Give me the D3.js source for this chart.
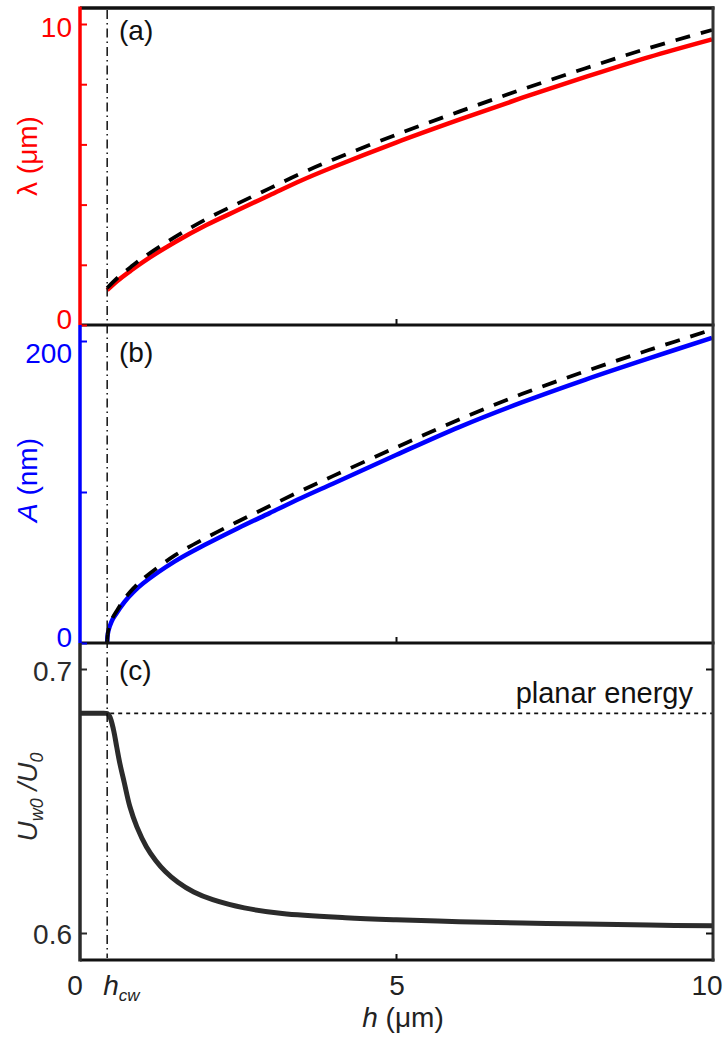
<!DOCTYPE html>
<html>
<head>
<meta charset="utf-8">
<script src="https://cdn.jsdelivr.net/npm/d3@7"></script>
<style>
  body { margin: 0; background: #fff; }
  svg text { font-family: "Liberation Sans", Arial, sans-serif; }
</style>
</head>
<body>
<svg id="fig" width="728" height="1039"></svg>
<script>
// critical thickness where wrinkling starts
var hcw = 0.43;
var planarU = 0.6832;

// (a) wavelength, simulation (solid) and theory (dashed)
var hA = [0.43, 0.6, 0.8, 1, 1.5, 2, 2.5, 3, 3.5, 4, 5, 6, 7, 8, 9, 10];
var lambdaSim = [1.16, 1.48, 1.8, 2.1, 2.75, 3.32, 3.82, 4.31, 4.8, 5.24, 6.06, 6.82, 7.55, 8.24, 8.9, 9.49];
var lambdaTheory = [1.23, 1.58, 1.92, 2.24, 2.92, 3.52, 4.04, 4.54, 5.04, 5.49, 6.32, 7.09, 7.83, 8.53, 9.2, 9.8];

// (b) amplitude
var hB = [0.43, 0.44, 0.47, 0.52, 0.6, 0.7, 0.84, 1, 1.5, 2, 2.5, 3, 3.5, 4, 5, 6, 7, 8, 9, 10];
var ampSim = [0, 6, 11, 16, 21, 27, 33.5, 39.5, 54, 65.5, 76, 86, 96, 105.5, 124.5, 143, 159.5, 174.5, 188.5, 202];
var ampTheory = [0, 6.5, 12, 17, 22.5, 29, 36, 42.5, 58, 69.8, 80.5, 90.7, 100.8, 110.5, 129.5, 148, 165, 180, 194, 207.5];

// (c) normalised energy
var hU = [0, 0.15, 0.3, 0.43, 0.47, 0.53, 0.58, 0.63, 0.7, 0.79, 0.9, 1.05, 1.2, 1.35, 1.55, 1.8, 2.1, 2.6, 3.2, 4.2, 5, 6, 7, 8, 9, 10];
var energy = [0.6832, 0.6832, 0.6832, 0.6831, 0.682, 0.677, 0.6706, 0.6643, 0.657, 0.6478, 0.6402, 0.6327, 0.6274, 0.6233, 0.6192, 0.6155, 0.6126, 0.6095, 0.6074, 0.6058, 0.6050, 0.6043, 0.6038, 0.6034, 0.6030, 0.6027];

// tick values / labels
var xTicks = [0, 5, 10];
var xTickLabels = ["0", "5", "10"];
var aTicks = [0, 2, 4, 6, 8, 10];
var bTicks = [0, 100, 200];
var cTicks = [0.6, 0.7];

var svg = d3.select('#fig');
var left = 80, right = 713;
var x = d3.scaleLinear().domain([0, 10]).range([left, 712]);

var yA = d3.scaleLinear().domain([0, 10]).range([325, 24]);
var yB = d3.scaleLinear().domain([0, 200]).range([643, 341]);
var yC = d3.scaleLinear().domain([0.6, 0.7]).range([933, 669]);

var font = 28;

function zip(xs, ys) {
  return xs.map(function (d, i) { return [d, ys[i]]; });
}

function curve(y, pts, color, width, dash) {
  var line = d3.line()
    .x(function (d) { return x(d[0]); })
    .y(function (d) { return y(d[1]); })
    .curve(d3.curveCatmullRom.alpha(0.5));
  var p = svg.append('path')
    .attr('d', line(pts))
    .attr('fill', 'none')
    .attr('stroke', color)
    .attr('stroke-width', width)
    .attr('stroke-linejoin', 'round');
  if (dash) p.attr('stroke-dasharray', dash);
  return p;
}

// left axis with inward ticks, labels only at the ends
function leftAxis(y, ticks, color, top, bottom, nudge) {
  var last = ticks[ticks.length - 1];
  var g = svg.append('g')
    .attr('transform', 'translate(' + left + ',0)')
    .call(d3.axisLeft(y).tickValues(ticks).tickSizeInner(-7).tickSizeOuter(0).tickPadding(8)
      .tickFormat(function (d) { return (d === ticks[0] || d === last) ? String(d) : ''; }));
  g.select('.domain').remove();
  g.selectAll('.tick line').attr('stroke', color).attr('stroke-width', 2);
  g.selectAll('.tick text')
    .attr('fill', color)
    .attr('font-size', font)
    .attr('transform', function (d) { return 'translate(0,' + (d === last ? nudge[1] : nudge[0]) + ')'; });
  svg.append('line')
    .attr('x1', left).attr('x2', left).attr('y1', top).attr('y2', bottom)
    .attr('stroke', color).attr('stroke-width', 3.5);
}

function bottomTick(yPos) {
  var g = svg.append('g')
    .attr('transform', 'translate(0,' + yPos + ')')
    .call(d3.axisBottom(x).tickValues([5]).tickSizeInner(-6).tickSizeOuter(0).tickFormat(''));
  g.select('.domain').remove();
  g.selectAll('.tick line').attr('stroke', '#111').attr('stroke-width', 2);
}

// ---- curves ----
curve(yA, zip(hA, lambdaSim), '#ff0000', 4.5);
curve(yA, zip(hA, lambdaTheory), '#000', 3.8, '15,11');

curve(yB, zip(hB, ampSim), '#0000ff', 4.5);
curve(yB, zip(hB, ampTheory), '#000', 3.8, '15,11');

// planar energy reference
svg.append('line')
  .attr('x1', x(hcw) + 3).attr('x2', right)
  .attr('y1', yC(planarU)).attr('y2', yC(planarU))
  .attr('stroke', '#111').attr('stroke-width', 1.6)
  .attr('stroke-dasharray', '4,4');
svg.append('text')
  .attr('x', 693).attr('y', 703)
  .attr('text-anchor', 'end')
  .attr('font-size', 29)
  .attr('fill', '#111')
  .text('planar energy');

curve(yC, zip(hU, energy), '#2b2b2b', 5);

// critical thickness marker
svg.append('line')
  .attr('x1', x(hcw)).attr('x2', x(hcw))
  .attr('y1', 10).attr('y2', 958)
  .attr('stroke', '#111').attr('stroke-width', 1.5)
  .attr('stroke-dasharray', '9,4,1.5,4');

// ---- frames ----
[8, 325, 643, 960].forEach(function (yy, i) {
  svg.append('line')
    .attr('x1', left).attr('x2', right + 1.5)
    .attr('y1', yy).attr('y2', yy)
    .attr('stroke', '#111').attr('stroke-width', i === 0 ? 3.5 : 2.8);
});
svg.append('line')
  .attr('x1', right).attr('x2', right).attr('y1', 6.5).attr('y2', 961.5)
  .attr('stroke', '#333').attr('stroke-width', 3);

bottomTick(325);
bottomTick(643);
bottomTick(960);

leftAxis(yA, aTicks, '#ff0000', 6.5, 325, [-5, 4]);
leftAxis(yB, bTicks, '#0000ff', 325, 643, [-5, 13]);
leftAxis(yC, cTicks, '#2b2b2b', 643, 961.5, [2, 3]);

// right ticks in (c)
var rc = svg.append('g')
  .attr('transform', 'translate(' + right + ',0)')
  .call(d3.axisRight(yC).tickValues(cTicks).tickSizeInner(-7).tickSizeOuter(0).tickFormat(''));
rc.select('.domain').remove();
rc.selectAll('.tick line').attr('stroke', '#111').attr('stroke-width', 2);

// x tick labels
svg.append('g').selectAll('text')
  .data(xTicks)
  .enter()
  .append('text')
  .attr('x', function (d) { return x(d) - (d === 5 ? -1 : 5); })
  .attr('y', 995)
  .attr('text-anchor', 'middle')
  .attr('font-size', font)
  .attr('fill', '#222')
  .text(function (d, i) { return xTickLabels[i]; });

var hl = svg.append('text')
  .attr('x', x(hcw) - 4).attr('y', 995)
  .attr('font-size', font)
  .attr('fill', '#222');
hl.append('tspan').attr('font-style', 'italic').text('h');
hl.append('tspan').attr('font-style', 'italic').attr('font-size', 17).attr('dy', 6).text('cw');

var xt = svg.append('text')
  .attr('x', x(5) + 7).attr('y', 1027)
  .attr('text-anchor', 'middle')
  .attr('font-size', font)
  .attr('fill', '#222');
xt.append('tspan').attr('font-style', 'italic').text('h');
xt.append('tspan').text(' (\u03bcm)');

// y titles
svg.append('text')
  .attr('transform', 'translate(37,' + 156 + ') rotate(-90)')
  .attr('text-anchor', 'middle')
  .attr('font-size', font)
  .attr('fill', '#ff0000')
  .text('\u03bb (\u03bcm)');

var at = svg.append('text')
  .attr('transform', 'translate(37,' + 480 + ') rotate(-90)')
  .attr('text-anchor', 'middle')
  .attr('font-size', font)
  .attr('fill', '#0000ff');
at.append('tspan').attr('font-style', 'italic').text('A');
at.append('tspan').text(' (nm)');

var ut = svg.append('text')
  .attr('transform', 'translate(37,' + 797 + ') rotate(-90)')
  .attr('text-anchor', 'middle')
  .attr('font-size', font)
  .attr('font-style', 'italic')
  .attr('fill', '#2b2b2b');
ut.append('tspan').text('U');
ut.append('tspan').attr('font-size', 18).attr('dy', 6).text('w0');
ut.append('tspan').attr('dy', -6).text(' /U');
ut.append('tspan').attr('font-size', 18).attr('dy', 6).text('0');

// panel labels
[['(a)', 40], ['(b)', 362], ['(c)', 680]].forEach(function (p) {
  svg.append('text')
    .attr('x', 119).attr('y', p[1])
    .attr('font-size', font)
    .attr('fill', '#111')
    .text(p[0]);
});
</script>
</body>
</html>
